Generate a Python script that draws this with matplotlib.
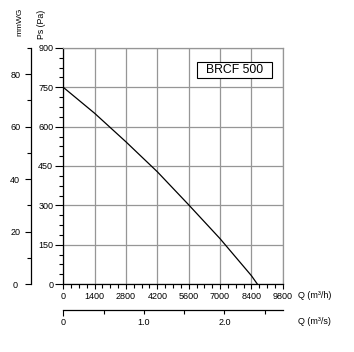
import numpy as np
import matplotlib.pyplot as plt
from matplotlib.patches import Rectangle
from matplotlib.ticker import MultipleLocator, FixedLocator

plt.rcParams['font.family'] = ['Liberation Sans', 'DejaVu Sans']

# Fan curve
q_m3h = [0, 1400, 2800, 4200, 5600, 7000, 8400, 8665]
ps_pa = [750, 651, 542, 428, 302, 173, 32, 0]

q_ticks = [0, 1400, 2800, 4200, 5600, 7000, 8400, 9800]
pa_ticks = [0, 150, 300, 450, 600, 750, 900]
mmwg_ticks = [0, 20, 40, 60, 80]
qs_ticks = [0, 0.5, 1.0, 1.5, 2.0, 2.5]
qs_labels = ['0', '', '1.0', '', '2.0', '']
model = 'BRCF 500'

grid_col = '#969696'
fs = 6.5

fig = plt.figure(figsize=(3.54, 3.52), dpi=100)
ax = fig.add_axes([63.3 / 354, 1 - 284 / 352, 219.4 / 354, 236 / 352])

ax.plot(q_m3h, ps_pa, color='black', lw=0.9)

ax.set_xlim(0, 9800)
ax.set_ylim(0, 900)
ax.set_xticks(q_ticks)
ax.set_yticks(pa_ticks)
ax.xaxis.set_minor_locator(MultipleLocator(350))
ax.yaxis.set_minor_locator(MultipleLocator(37.5))
ax.grid(True, which='major', color=grid_col, lw=0.9)
ax.tick_params(axis='x', which='major', direction='out', length=3.6, width=0.8, pad=2.5, labelsize=fs)
ax.tick_params(axis='x', which='minor', direction='out', length=2.6, width=0.8)
ax.tick_params(axis='y', which='major', direction='out', length=5.8, width=0.8, pad=1.5, labelsize=fs)
ax.tick_params(axis='y', which='minor', direction='out', length=2.9, width=0.8)
for s in ('top', 'right'):
    ax.spines[s].set_color(grid_col)
    ax.spines[s].set_linewidth(0.9)
for s in ('left', 'bottom'):
    ax.spines[s].set_linewidth(0.9)

# mmWG axis (10 Pa per mmWG)
left_loc = (31 - 63.3) / 219.4
ay2 = ax.secondary_yaxis(left_loc, functions=(lambda p: p / 10, lambda m: m * 10))
ay2.set_yticks(mmwg_ticks)
ay2.yaxis.set_minor_locator(FixedLocator([10, 30, 50, 70, 90]))
ay2.tick_params(axis='y', which='major', direction='out', length=4.3, width=0.8, pad=3.5, labelsize=fs)
ay2.tick_params(axis='y', which='minor', direction='out', length=3.0, width=0.8)
ay2.spines['left'].set_linewidth(0.9)
# the zero tick is drawn longer
t0 = ay2.yaxis.get_major_ticks()[0]
t0.tick1line.set_markersize(6.5)
t0.set_pad(5.5)

# Q (m3/s) axis
bot_loc = -(310 - 284) / 236
ax2 = ax.secondary_xaxis(bot_loc, functions=(lambda q: q / 3600, lambda s: s * 3600))
ax2.set_xticks(qs_ticks)
ax2.set_xticklabels(qs_labels)
ax2.tick_params(axis='x', which='major', direction='out', length=3.0, width=0.8, pad=2.5, labelsize=fs)
ax2.spines['bottom'].set_linewidth(0.9)
ax2.xaxis.get_major_ticks()[0].tick1line.set_markersize(4.5)

ax.text((298 - 63.3) / 219.4, -(295 - 284) / 236, 'Q (m³/h)', transform=ax.transAxes,
        fontsize=fs, ha='left', va='center')
ax.text((298 - 63.3) / 219.4, -(321 - 284) / 236, 'Q (m³/s)', transform=ax.transAxes,
        fontsize=fs, ha='left', va='center')

fig.text(20 / 354, 1 - 22 / 352, 'mmWG', rotation=90, fontsize=6, ha='center', va='center')
fig.text(42 / 354, 1 - 24 / 352, 'Ps (Pa)', rotation=90, fontsize=6.3, ha='center', va='center')

# model label box
ax.add_patch(Rectangle((0.611, 0.872), 0.339, 0.069, transform=ax.transAxes,
                       fc='white', ec='black', lw=0.8, zorder=3))
ax.text(0.7805, 0.907, model, transform=ax.transAxes, fontsize=8.8, ha='center', va='center',
        zorder=4)

fig.savefig('out.png', dpi=100)
